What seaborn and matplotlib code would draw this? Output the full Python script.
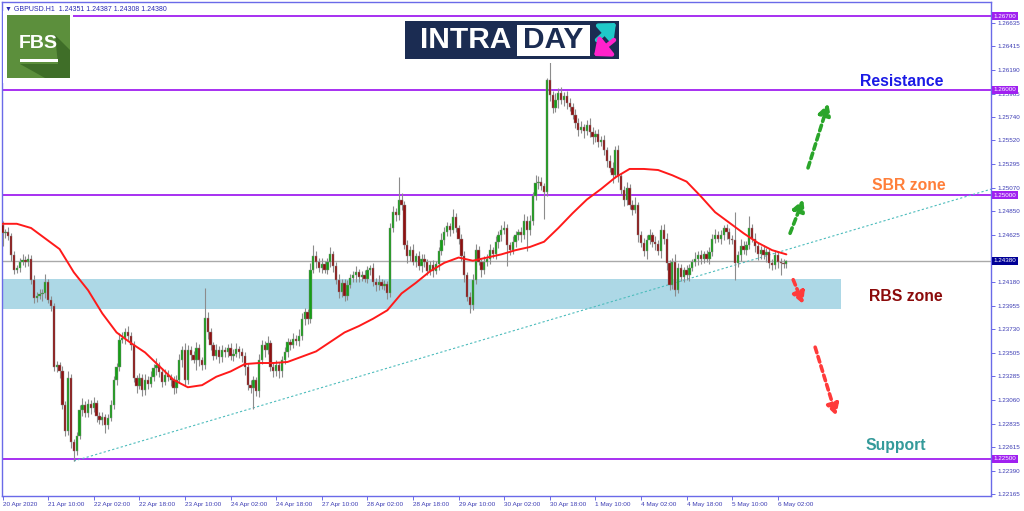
import matplotlib
matplotlib.use("Agg")
import matplotlib.pyplot as plt
import matplotlib.transforms as mtrans
from matplotlib.patches import Rectangle, Polygon
import numpy as np
import seaborn as sns

# ---------------- data ----------------
first_open = 1.2472
closes = [
    1.2464, 1.2465, 1.2461, 1.2443, 1.2429, 1.2431, 1.2437, 1.2439, 1.2437, 1.2440,
    1.2420, 1.2403, 1.2405, 1.2406, 1.2407, 1.2418, 1.2401, 1.2395, 1.2337, 1.2339,
    1.2333, 1.2301, 1.2277, 1.2327, 1.2266, 1.2258, 1.2272, 1.2296, 1.2301, 1.2294,
    1.2302, 1.2298, 1.2303, 1.2291, 1.2287, 1.2290, 1.2282, 1.2289, 1.2301, 1.2325,
    1.2337, 1.2363, 1.2365, 1.2370, 1.2367, 1.2358, 1.2327, 1.2319, 1.2327, 1.2315,
    1.2325, 1.2321, 1.2328, 1.2336, 1.2339, 1.2332, 1.2323, 1.2330, 1.2328, 1.2325,
    1.2317, 1.2325, 1.2344, 1.2353, 1.2325, 1.2353, 1.2349, 1.2344, 1.2355, 1.2344,
    1.2339, 1.2384, 1.2370, 1.2358, 1.2348, 1.2353, 1.2347, 1.2353, 1.2351, 1.2355,
    1.2348, 1.2350, 1.2354, 1.2351, 1.2348, 1.2337, 1.2320, 1.2317, 1.2325, 1.2314,
    1.2344, 1.2358, 1.2353, 1.2360, 1.2337, 1.2333, 1.2339, 1.2333, 1.2344, 1.2351,
    1.2361, 1.2358, 1.2364, 1.2362, 1.2367, 1.2383, 1.2389, 1.2383, 1.2429, 1.2442,
    1.2437, 1.2431, 1.2435, 1.2429, 1.2437, 1.2444, 1.2433, 1.2420, 1.2408, 1.2417,
    1.2405, 1.2415, 1.2422, 1.2424, 1.2427, 1.2423, 1.2424, 1.2421, 1.2429, 1.2431,
    1.2418, 1.2415, 1.2418, 1.2414, 1.2416, 1.2407, 1.2469, 1.2484, 1.2481, 1.2496,
    1.2491, 1.2453, 1.2442, 1.2448, 1.2437, 1.2442, 1.2433, 1.2440, 1.2437, 1.2428,
    1.2434, 1.2428, 1.2435, 1.2447, 1.2458, 1.2465, 1.2471, 1.2467, 1.2479, 1.2469,
    1.2459, 1.2442, 1.2424, 1.2404, 1.2396, 1.2420, 1.2448, 1.2437, 1.2429, 1.2437,
    1.2440, 1.2448, 1.2444, 1.2456, 1.2462, 1.2467, 1.2469, 1.2453, 1.2448, 1.2456,
    1.2462, 1.2465, 1.2462, 1.2476, 1.2467, 1.2476, 1.2499, 1.2512, 1.2513, 1.2509,
    1.2503, 1.2609, 1.2595, 1.2583, 1.2590, 1.2597, 1.2590, 1.2594, 1.2588, 1.2584,
    1.2576, 1.2569, 1.2562, 1.2565, 1.2561, 1.2567, 1.2560, 1.2555, 1.2558, 1.2551,
    1.2552, 1.2543, 1.2533, 1.2526, 1.2519, 1.2543, 1.2518, 1.2505, 1.2496, 1.2507,
    1.2491, 1.2486, 1.2491, 1.2462, 1.2455, 1.2447, 1.2458, 1.2462, 1.2456, 1.2454,
    1.2447, 1.2467, 1.2459, 1.2436, 1.2415, 1.2437, 1.2410, 1.2431, 1.2423, 1.2429,
    1.2424, 1.2431, 1.2437, 1.2440, 1.2443, 1.2440, 1.2444, 1.2440, 1.2446, 1.2459,
    1.2462, 1.2459, 1.2462, 1.2469, 1.2465, 1.2459, 1.2458, 1.2436, 1.2443, 1.2452,
    1.2448, 1.2453, 1.2469, 1.2459, 1.2452, 1.2444, 1.2448, 1.2443, 1.2446, 1.2436,
    1.2434, 1.2443, 1.2437, 1.2436, 1.24351, 1.24380,
]
# wick lengths beyond the body, in pips
wick_up = [
    4, 3, 5, 3, 4, 3, 4, 5, 3, 4,
    3, 4, 3, 5, 4, 7, 3, 4, 3, 4,
    3, 5, 4, 6, 4, 3, 4, 5, 7, 4,
    5, 4, 6, 3, 4, 5, 3, 4, 5, 4,
    4, 6, 5, 4, 6, 3, 4, 3, 5, 4,
    6, 4, 5, 4, 7, 3, 4, 5, 4, 3,
    4, 5, 6, 4, 7, 5, 4, 3, 6, 4,
    3, 28, 5, 4, 3, 6, 4, 5, 3, 4,
    5, 4, 6, 3, 4, 3, 4, 5, 4, 3,
    6, 5, 4, 7, 3, 4, 5, 3, 4, 5,
    4, 3, 5, 4, 6, 5, 4, 3, 7, 11,
    5, 4, 6, 3, 4, 7, 3, 4, 5, 4,
    4, 5, 3, 4, 6, 3, 4, 5, 4, 3,
    5, 4, 6, 3, 4, 3, 5, 6, 4, 21,
    6, 4, 5, 4, 6, 3, 5, 4, 4, 3,
    4, 5, 3, 4, 6, 5, 4, 3, 8, 4,
    3, 4, 5, 3, 4, 5, 6, 4, 3, 5,
    4, 6, 3, 5, 4, 5, 7, 4, 3, 5,
    4, 3, 5, 6, 4, 5, 4, 7, 5, 4,
    3, 2, 19, 4, 7, 5, 6, 4, 5, 4,
    4, 6, 4, 5, 3, 4, 6, 5, 4, 5,
    4, 5, 3, 5, 6, 4, 5, 3, 4, 6,
    4, 5, 7, 3, 4, 5, 4, 6, 3, 5,
    4, 5, 6, 5, 3, 4, 7, 5, 4, 3,
    5, 4, 3, 6, 4, 5, 3, 4, 5, 4,
    6, 4, 5, 3, 4, 4, 3, 26, 4, 7,
    5, 4, 11, 4, 5, 3, 4, 5, 4, 3,
    4, 5, 3, 4, 4, 0.7,
]
wick_dn = [
    12, 4, 3, 5, 4, 3, 4, 3, 5, 4,
    4, 5, 4, 3, 6, 4, 3, 5, 4, 5,
    6, 4, 5, 4, 6, 10, 4, 3, 5, 4,
    4, 5, 3, 6, 4, 5, 7, 4, 3, 4,
    5, 4, 3, 6, 4, 5, 4, 6, 3, 5,
    4, 5, 3, 4, 6, 4, 5, 3, 4, 6,
    5, 4, 3, 7, 6, 4, 5, 3, 10, 6,
    5, 4, 6, 5, 4, 3, 6, 5, 4, 4,
    4, 5, 3, 5, 6, 7, 5, 4, 20, 4,
    5, 4, 6, 3, 4, 5, 4, 6, 5, 4,
    4, 5, 3, 4, 5, 4, 6, 5, 4, 3,
    6, 4, 5, 3, 4, 5, 6, 4, 5, 4,
    5, 4, 3, 4, 6, 5, 4, 3, 4, 5,
    4, 6, 5, 3, 4, 5, 3, 4, 5, 4,
    5, 4, 6, 4, 3, 5, 4, 6, 5, 4,
    4, 5, 3, 6, 4, 5, 4, 6, 3, 4,
    5, 4, 6, 4, 8, 5, 4, 3, 6, 4,
    4, 5, 3, 4, 6, 5, 4, 20, 5, 4,
    5, 4, 6, 3, 20, 5, 4, 3, 6, 4,
    25, 4, 6, 5, 4, 7, 3, 5, 6, 4,
    4, 5, 6, 3, 7, 4, 5, 6, 4, 5,
    4, 5, 6, 4, 7, 3, 5, 4, 6, 5,
    4, 5, 3, 6, 4, 5, 7, 4, 5, 6,
    4, 6, 5, 7, 5, 4, 5, 3, 4, 5,
    4, 5, 3, 4, 6, 5, 4, 3, 5, 4,
    4, 3, 5, 4, 6, 5, 4, 16, 4, 5,
    4, 5, 4, 3, 6, 5, 4, 3, 6, 5,
    5, 4, 6, 12, 4, 4.3,
]

# moving average (read every 5 bars)
ma_idx = list(range(0, 276, 5))
ma_vals = [
    1.2473, 1.2473, 1.2469, 1.2459, 1.2449, 1.2427, 1.2410, 1.2388, 1.2370, 1.2360,
    1.2351, 1.2338, 1.2325, 1.2318, 1.2320, 1.2328, 1.2333, 1.2340, 1.2341, 1.2341,
    1.2342, 1.2347, 1.2352, 1.2361, 1.2370, 1.2376, 1.2383, 1.2391, 1.2407, 1.2417,
    1.2428, 1.2436, 1.2441, 1.2438, 1.2441, 1.2444, 1.2448, 1.2451, 1.2456, 1.2469,
    1.2483, 1.2496, 1.2506, 1.2517, 1.2525, 1.2525, 1.2524, 1.2519, 1.2513, 1.2499,
    1.2484, 1.2474, 1.2464, 1.2455, 1.2448, 1.2444,
]

x_tick_labels = ["20 Apr 2020", "21 Apr 10:00", "22 Apr 02:00", "22 Apr 18:00",
                 "23 Apr 10:00", "24 Apr 02:00", "24 Apr 18:00", "27 Apr 10:00",
                 "28 Apr 02:00", "28 Apr 18:00", "29 Apr 10:00", "30 Apr 02:00",
                 "30 Apr 18:00", "1 May 10:00", "4 May 02:00", "4 May 18:00",
                 "5 May 10:00", "6 May 02:00"]
bars_per_label = 16
y_ticks = [1.26635, 1.26415, 1.26190, 1.25965, 1.25740, 1.25520, 1.25295, 1.25070,
           1.24850, 1.24625, 1.24180, 1.23955, 1.23730, 1.23505, 1.23285,
           1.23060, 1.22835, 1.22615, 1.22390, 1.22165]

levels = [1.2670, 1.2600, 1.2500, 1.2250]
last_price = 1.24380
rbs_low, rbs_high, rbs_end = 1.2392, 1.2421, 294
trend_x = [25, 347]
trend_y = [1.2248, 1.2506]

arrows_green = [((282.6, 1.2526), (289.7, 1.2587)), ((276.3, 1.2464), (280.9, 1.2496))]
arrows_red = [((277.4, 1.2420), (280.9, 1.2397)), ((285.1, 1.2356), (292.5, 1.2291))]

labels = [("Resistance", 315.3, 1.2608, "#1a1ae6"),
          ("SBR zone", 318.0, 1.2509, "#ff7f3a"),
          ("RBS zone", 317.0, 1.2404, "#8b0a0a"),
          ("Support", 313.5, 1.2263, "#349a9a")]
header = "\u25bc GBPUSD,H1  1.24351 1.24387 1.24308 1.24380"

# ---------------- figure ----------------
sns.set_theme(style="white")
plt.rcParams["font.family"] = ["Liberation Sans", "DejaVu Sans"]

fig = plt.figure(figsize=(10.24, 5.11), dpi=100)
fig.patch.set_facecolor("white")
ax = fig.add_axes([2 / 1024, 15 / 511, 989 / 1024, 494 / 511])
ax.set_facecolor("white")

closes_a = np.array(closes)
opens_a = np.r_[first_open, closes_a[:-1]]
idx = np.arange(len(closes_a))
pip = 0.0001
highs = np.maximum(opens_a, closes_a) + np.array(wick_up) * pip
lows = np.minimum(opens_a, closes_a) - np.array(wick_dn) * pip
up = closes_a >= opens_a

# RBS zone
ax.fill_between([-1, rbs_end], rbs_low, rbs_high, color="#add8e6", lw=0, zorder=1)

# horizontal levels
for lv in levels:
    ax.axhline(lv, color="#a020f0", lw=1.3, zorder=2)
ax.axhline(last_price, color="#a9a9a9", lw=1.0, zorder=2)

# trend line
sns.lineplot(x=trend_x, y=trend_y, ax=ax, color="#4cbcbc", lw=0.8,
             linestyle=(0, (2, 2)), zorder=2)

# candles
ax.vlines(idx, lows, highs, color="#8c8c8c", lw=0.8, zorder=3)
ax.bar(idx[up], closes_a[up] - opens_a[up], bottom=opens_a[up], width=0.8,
       color="#169e16", edgecolor="#8a8a8a", linewidth=0.3, zorder=4)
ax.bar(idx[~up], opens_a[~up] - closes_a[~up], bottom=closes_a[~up], width=0.8,
       color="#8e1111", edgecolor="#8a8a8a", linewidth=0.3, zorder=4)

# moving average
sns.lineplot(x=ma_idx, y=ma_vals, ax=ax, color="#ff1a1a", lw=1.4, zorder=5)

# arrows
def dashed_arrow(p0, p1, color):
    ax.annotate("", xy=p1, xytext=p0,
                arrowprops=dict(arrowstyle="-|>,head_length=0.55,head_width=0.3",
                                lw=2.6, ls=(0, (1.6, 1.1)), color=color,
                                shrinkA=0, shrinkB=0), zorder=6)

for p0, p1 in arrows_green:
    dashed_arrow(p0, p1, "#2aa52a")
for p0, p1 in arrows_red:
    dashed_arrow(p0, p1, "#ff3a3a")

for txt, xx, yy, col in labels:
    ax.text(xx, yy, txt, color=col, fontsize=11.3, fontweight="bold",
            ha="center", va="center", zorder=7)

ax.text(0.003, 0.993, header, transform=ax.transAxes, fontsize=5, color="#2828b4",
        ha="left", va="top", zorder=8)

# axes
ax.set_xlim(-0.2, 346.8)
ax.set_ylim(1.22149, 1.26833)
ax.set_xticks(np.arange(len(x_tick_labels)) * bars_per_label)
ax.set_xticklabels(x_tick_labels)
for lbl in ax.get_xticklabels():
    lbl.set_horizontalalignment("left")
ax.yaxis.tick_right()
ax.set_yticks(y_ticks)
ax.set_yticklabels([f"{v:.5f}" for v in y_ticks])
spine_col = "#6a6ae8"
ax.tick_params(axis="x", length=3, width=0.7, pad=1.5, labelsize=4.6,
               colors=spine_col, labelcolor="#3c3cb4", bottom=True)
ax.tick_params(axis="y", length=3, width=0.7, pad=1.5, labelsize=4.5,
               colors=spine_col, labelcolor="#3c3cb4", right=True, left=False)
for s in ax.spines.values():
    s.set_color(spine_col)
    s.set_linewidth(1.0)
ax.grid(False)

# right-axis value boxes
trans = mtrans.blended_transform_factory(ax.transAxes, ax.transData)
for lv in levels:
    ax.text(1.0025, lv, f"{lv:.5f}", transform=trans, fontsize=4.5, color="white",
            ha="left", va="center", clip_on=False, zorder=9,
            bbox=dict(boxstyle="square,pad=0.25", fc="#a020f0", ec="none"))
ax.text(1.0025, last_price, f"{last_price:.5f}", transform=trans, fontsize=4.5,
        color="white", ha="left", va="center", clip_on=False, zorder=9,
        bbox=dict(boxstyle="square,pad=0.25", fc="#000096", ec="none"))

# ---------------- logos (overlay in pixel space) ----------------
ov = fig.add_axes([0, 0, 1, 1], zorder=10)
ov.set_xlim(0, 1024)
ov.set_ylim(511, 0)
ov.axis("off")
ov.patch.set_alpha(0)

# FBS
ov.add_patch(Rectangle((3, 11), 70, 72, fc="white", ec="none"))
ov.add_patch(Rectangle((7, 15), 63, 63, fc="#5c8f3c", ec="none"))
ov.add_patch(Polygon([(55, 35), (70, 50), (70, 78), (45, 78), (20, 64), (58, 64)],
                     closed=True, fc="#3f6e28", ec="none"))
ov.text(38.5, 44, "FBS", color="white", fontsize=14, fontweight="bold",
        ha="center", va="center", family=["Liberation Sans", "DejaVu Sans"])
ov.add_patch(Rectangle((20, 59), 38, 3.5, fc="white", ec="none"))

# INTRADAY
ov.add_patch(Rectangle((401, 17), 222, 46, fc="white", ec="none"))
ov.add_patch(Rectangle((405, 21), 214, 38, fc="#1b2c52", ec="none"))
ov.add_patch(Rectangle((517, 25), 73, 31, fc="white", ec="none"))
ov.text(466, 40.5, "INTRA", color="white", fontsize=21.5, fontweight="bold",
        ha="center", va="center")
ov.text(553.5, 40.5, "DAY", color="#1b2c52", fontsize=21.5, fontweight="bold",
        ha="center", va="center")
ov.annotate("", xy=(616, 23), xytext=(597, 40),
            arrowprops=dict(arrowstyle="-|>,head_length=0.7,head_width=0.6",
                            lw=3.2, color="#1fc9c9", shrinkA=0, shrinkB=0))
ov.annotate("", xy=(594, 56), xytext=(614, 40),
            arrowprops=dict(arrowstyle="-|>,head_length=0.7,head_width=0.6",
                            lw=3.2, color="#ff22cc", shrinkA=0, shrinkB=0))

fig.savefig("out.png", dpi=100)
